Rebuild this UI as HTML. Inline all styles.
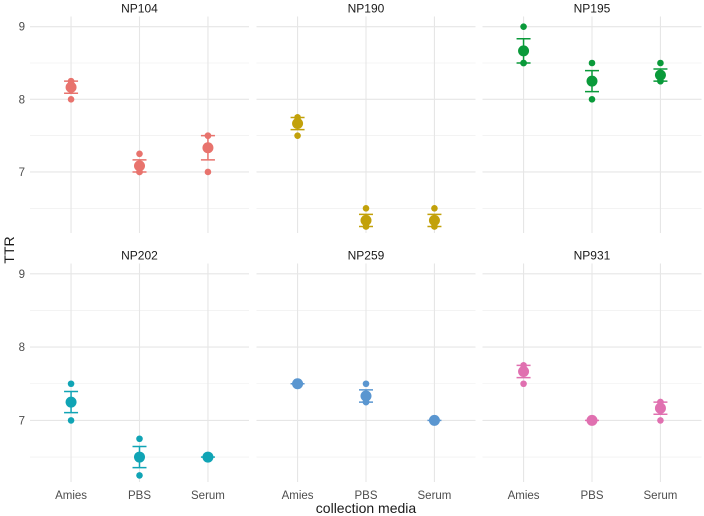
<!DOCTYPE html>
<html><head><meta charset="utf-8"><style>
body{margin:0;background:#fff;}
svg{display:block;font-family:"Liberation Sans",sans-serif;}
</style></head><body>
<svg id="chart" width="704" height="516"></svg>
<script>
const facets = ["NP104","NP190","NP195","NP202","NP259","NP931"];
const categories = ["Amies","PBS","Serum"];
const colors = ["#E8736D","#C2A10A","#0A9A3A","#10A4B5","#5A96D0","#E070B0"];
const replicatesNP104 = [[8.25,8.25,8.0],[7.25,7.0,7.0],[7.5,7.5,7.0]];
const replicatesNP190 = [[7.75,7.75,7.5],[6.5,6.25,6.25],[6.5,6.25,6.25]];
const replicatesNP195 = [[9.0,8.5,8.5],[8.5,8.25,8.0],[8.5,8.25,8.25]];
const replicatesNP202 = [[7.5,7.25,7.0],[6.75,6.5,6.25],[6.5,6.5,6.5]];
const replicatesNP259 = [[7.5,7.5,7.5],[7.5,7.25,7.25],[7.0,7.0,7.0]];
const replicatesNP931 = [[7.75,7.75,7.5],[7.0,7.0,7.0],[7.25,7.25,7.0]];
const yTicks = [7,8,9];
const yMinor = [6.5,7.5,8.5];

const allData = [replicatesNP104,replicatesNP190,replicatesNP195,replicatesNP202,replicatesNP259,replicatesNP931];
const NS = "http://www.w3.org/2000/svg";
const svg = document.getElementById("chart");
function mk(tag, attrs, parent){const e=document.createElementNS(NS,tag);for(const k in attrs)e.setAttribute(k,attrs[k]);(parent||svg).appendChild(e);return e;}
const colX = [30,256.5,482.5], panelW = 219;
const rowY = [[16.5,233],[263.5,482]];
const yDom = [6.16,9.14];
function yScale(v,row){const [t,b]=rowY[row];return b-(v-yDom[0])/(yDom[1]-yDom[0])*(b-t);}
function xScale(i,col){return colX[col]+(i+0.6)/3.2*panelW;}

facets.forEach((f,fi)=>{
  const col=fi%3,row=Math.floor(fi/3);
  const [t,b]=rowY[row];
  const g=mk("g",{});
  
  
  yMinor.forEach(v=>{const l=mk("line",{x1:colX[col],x2:colX[col]+panelW,y1:yScale(v,row),y2:yScale(v,row),stroke:"#ececec","stroke-width":0.6},g);
    });
  yTicks.forEach(v=>{const l=mk("line",{x1:colX[col],x2:colX[col]+panelW,y1:yScale(v,row),y2:yScale(v,row),stroke:"#e6e6e6","stroke-width":1.1},g);
    });
  categories.forEach((c,ci)=>{const l=mk("line",{x1:xScale(ci,col),x2:xScale(ci,col),y1:t,y2:b,stroke:"#e6e6e6","stroke-width":1.1},g);
    });
  const st=mk("text",{x:colX[col]+panelW/2,y:t-4,"text-anchor":"middle","font-size":"12","fill":"#1a1a1a"},g);
  st.textContent=f;
  
  if(col===0){yTicks.forEach(v=>{const tx=mk("text",{x:25,y:yScale(v,row)+4,"text-anchor":"end","font-size":"11.5","fill":"#4d4d4d"});
    tx.textContent=v;});}
  if(row===1){categories.forEach((c,ci)=>{const tx=mk("text",{x:xScale(ci,col),y:499,"text-anchor":"middle","font-size":"11.5","fill":"#4d4d4d"});
    tx.textContent=c;});}
  const color=colors[fi];
  allData[fi].forEach((vals,ci)=>{
    const x=xScale(ci,col);
    const n=vals.length,mean=vals.reduce((a,b)=>a+b,0)/n;
    const sd=Math.sqrt(vals.reduce((a,b)=>a+(b-mean)**2,0)/(n-1)),se=sd/Math.sqrt(n);
    if(se>0){
      const eb=mk("path",{d:`M${x-7},${yScale(mean+se,row)}H${x+7}M${x},${yScale(mean+se,row)}V${yScale(mean-se,row)}M${x-7},${yScale(mean-se,row)}H${x+7}`,stroke:color,"stroke-width":1.5,fill:"none"},g);
      
    } else {
      const eb=mk("line",{x1:x-7,x2:x+7,y1:yScale(mean,row),y2:yScale(mean,row),stroke:color,"stroke-width":1.5},g);
      
    }
    vals.forEach(v=>{const p=mk("circle",{cx:x,cy:yScale(v,row),r:3.3,fill:color},g);
      });
    const m=mk("circle",{cx:x,cy:yScale(mean,row),r:5.5,fill:color},g);
    
  });
});
const yt=mk("text",{x:0,y:0,transform:"translate(14,250) rotate(-90)","text-anchor":"middle","font-size":"14","fill":"#1a1a1a"});
yt.textContent="TTR";
const xt=mk("text",{x:366,y:513,"text-anchor":"middle","font-size":"14","fill":"#1a1a1a"});
xt.textContent="collection media";
</script>
</body></html>
